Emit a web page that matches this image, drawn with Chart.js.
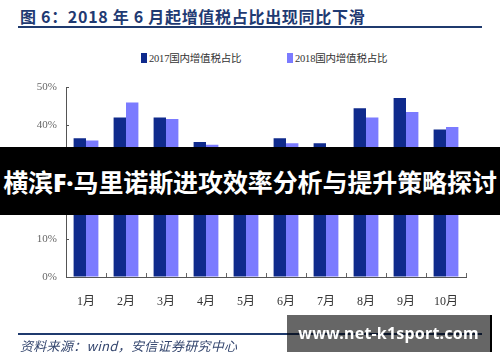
<!DOCTYPE html>
<html>
<head>
<meta charset="utf-8">
<script src="https://cdn.jsdelivr.net/npm/chart.js@4/dist/chart.umd.min.js"></script>
<style>
  body { margin: 0; background: #fff; }
  #wrap { position: relative; width: 500px; height: 362px; overflow: hidden; background: #fff; }
  #chart { position: absolute; left: 0; top: 0; }
  .title { position: absolute; left: 20px; top: 4px; font: bold 16px "Noto Sans CJK SC", sans-serif; color: #1f3a72; letter-spacing: 0.7px; white-space: nowrap; }
  .rule { position: absolute; left: 18px; width: 464px; height: 1.5px; background: #1f3a6e; }
  .legend { position: absolute; top: 50px; font: 10.5px "Liberation Serif", "Noto Sans CJK SC", serif; color: #333; white-space: nowrap; letter-spacing: -0.2px; }
  .legend i { display: inline-block; width: 6px; height: 10px; margin-right: 2px; vertical-align: -1px; }
  .source { position: absolute; left: 20px; top: 336px; font: italic 13px "Noto Sans CJK SC", sans-serif; color: #34466e; white-space: nowrap; letter-spacing: 0.3px; }
  .banner { position: absolute; left: 0; top: 147px; width: 500px; height: 68px; background: #000; }
  .banner .mid { position: absolute; left: 9px; right: 10px; top: 0; bottom: 0; background: rgba(0,0,0,0.6); }
  .banner span { position: absolute; left: 0; right: 0; top: 17px; text-align: center; font: bold 25px "Noto Sans CJK SC", sans-serif; color: #fff; line-height: 34px; white-space: nowrap; letter-spacing: -0.1px; }
  .banner b { font-family: "Noto Sans", sans-serif; }
  .mark { position: absolute; left: 287px; top: 315px; width: 203px; height: 37px; background: rgba(0,0,0,0.6); border-right: 2px solid #000; }
  .mark span { position: absolute; left: 0; right: 0; top: 8px; text-align: center; font: bold 16px "Noto Sans", sans-serif; color: #fff; line-height: 20px; letter-spacing: 0.2px; }
</style>
</head>
<body>
<div id="wrap">
  <div class="title">图 6：2018 年 6 月起增值税占比出现同比下滑</div>
  <div class="rule" style="top:26px"></div>
  <div class="legend" style="left:141px"><i style="background:#0f2a8c"></i>2017国内增值税占比</div>
  <div class="legend" style="left:287px"><i style="background:#7b7bff"></i>2018国内增值税占比</div>
  <canvas id="chart" width="500" height="362"></canvas>
  <div class="rule" style="top:333px"></div>
  <div class="source">资料来源：wind，安信证券研究中心</div>
  <div class="banner"><div class="mid"></div><span>横滨<b>F·</b>马里诺斯进攻效率分析与提升策略探讨</span></div>
  <div class="mark"><span>www.net-k1sport.com</span></div>
</div>
<script>
const months = ['1月', '2月', '3月', '4月', '5月', '6月', '7月', '8月', '9月', '10月'];
const share2017 = [36.5, 42.0, 42.0, 35.5, 28.9, 36.5, 35.2, 44.4, 47.1, 38.8];
const share2018 = [35.9, 45.9, 41.6, 34.8, 31.0, 35.2, 33.1, 42.0, 43.4, 39.5];
const seriesNames = ['2017国内增值税占比', '2018国内增值税占比'];

const ctx = document.getElementById('chart').getContext('2d');
const chart = new Chart(ctx, {
    type: 'bar',
    data: {
        labels: months,
        datasets: [
            { label: seriesNames[0], data: share2017, backgroundColor: '#0f2a8c' },
            { label: seriesNames[1], data: share2018, backgroundColor: '#7b7bff' }
        ]
    },
    options: {
        responsive: false,
        animation: false,
        layout: { padding: { left: 26, right: 34, top: 87, bottom: 55 } },
        datasets: { bar: { categoryPercentage: 0.62, barPercentage: 1 } },
        plugins: { legend: { display: false }, tooltip: { enabled: false } },
        scales: {
            x: {
                grid: { drawOnChartArea: false, tickLength: -4, color: '#666' },
                border: { color: '#555' },
                ticks: { padding: 22, color: '#333', font: { family: '"Liberation Serif", "Noto Sans CJK SC", serif', size: 12 } },
                afterFit: scale => { scale.height = 30; }
            },
            y: {
                min: 0,
                max: 50,
                grid: { drawOnChartArea: false, tickLength: -3, color: '#555' },
                border: { color: '#555' },
                ticks: { stepSize: 10, padding: 12, color: '#666', font: { family: '"Liberation Serif", serif', size: 11 }, callback: v => v + '%' },
                afterFit: scale => { scale.width = 40; }
            }
        }
    }
});
</script>
</body>
</html>
